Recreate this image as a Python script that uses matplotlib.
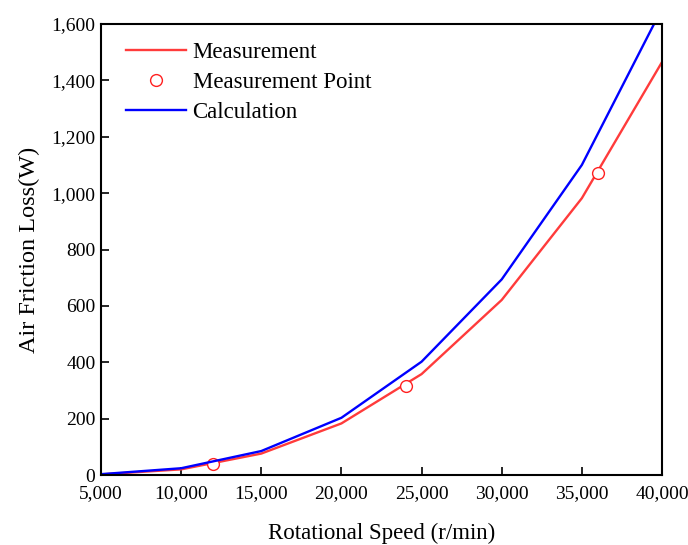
import matplotlib
matplotlib.use("Agg")
import matplotlib.pyplot as plt
from matplotlib.ticker import FuncFormatter, FixedLocator

plt.rcParams['font.family'] = ['Liberation Serif', 'DejaVu Serif']

speed = [5000, 10000, 15000, 20000, 25000, 30000, 35000, 40000]
measured = [2, 20, 76, 183, 358, 621, 982, 1465]
calculated = [3, 24, 85, 203, 402, 694, 1100, 1655]

point_speed = [12000, 24000, 36000]
point_loss = [39, 317, 1070]

x_ticks = [5000, 10000, 15000, 20000, 25000, 30000, 35000, 40000]
y_ticks = [0, 200, 400, 600, 800, 1000, 1200, 1400, 1600]

fig = plt.figure(figsize=(6.88, 5.45), dpi=100)
ax = fig.add_axes([101 / 688, 70 / 545, 561 / 688, 451 / 545])

ax.plot(speed, measured, color='#FF3B3B', lw=1.7, label='Measurement')
ax.plot(point_speed, point_loss, ls='none', marker='o', ms=8.5,
        mfc='white', mec='#FF2020', mew=1.0, label='Measurement Point')
ax.plot(speed, calculated, color='#0000FF', lw=1.7, label='Calculation')

ax.set_xlim(5000, 40000)
ax.set_ylim(0, 1600)
ax.xaxis.set_major_locator(FixedLocator(x_ticks))
ax.yaxis.set_major_locator(FixedLocator(y_ticks))
fmt = FuncFormatter(lambda v, p: f"{int(v):,}")
ax.xaxis.set_major_formatter(fmt)
ax.yaxis.set_major_formatter(fmt)

ax.tick_params(direction='in', length=6, width=1.2, labelsize=14)
ax.tick_params(axis='x', pad=7)
ax.tick_params(axis='y', pad=4)
for s in ax.spines.values():
    s.set_linewidth(1.5)

ax.set_xlabel('Rotational Speed (r/min)', fontsize=16.5, labelpad=15)
ax.set_ylabel('Air Friction Loss(W)', fontsize=17.5, labelpad=8)

ax.legend(loc='upper left', frameon=False, fontsize=16.5, handlelength=2.6,
          handletextpad=0.3, labelspacing=0.38, borderaxespad=0.4,
          bbox_to_anchor=(0.012, 1.0))

fig.savefig('out.png', dpi=100)
